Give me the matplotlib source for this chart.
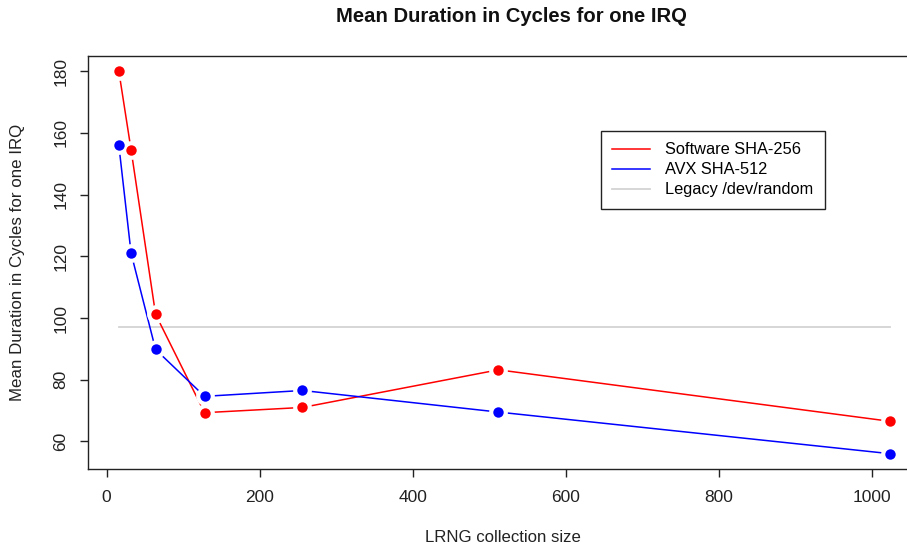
import matplotlib
matplotlib.use("Agg")
import matplotlib.pyplot as plt
from matplotlib.lines import Line2D

plt.rcParams['font.family'] = ['Liberation Sans', 'DejaVu Sans']

sizes = [16, 32, 64, 128, 256, 512, 1024]
software_sha256 = [180, 154.5, 101.2, 69.3, 71.0, 83.2, 66.5]
avx_sha512 = [156, 121, 89.8, 74.6, 76.5, 69.5, 56.0]
legacy = [97, 97, 97, 97, 97, 97, 97]
legend_labels = ["Software SHA-256", "AVX SHA-512", "Legacy /dev/random"]

W, H = 907, 547
fig = plt.figure(figsize=(W/100, H/100), dpi=100)
ax = fig.add_axes([88/W, 1-469/H, (921-88)/W, (469-56)/H])

xr = max(sizes) - min(sizes)
ax.set_xlim(min(sizes) - 0.04*xr, max(sizes) + 0.04*xr)
yall = software_sha256 + avx_sha512
yr = max(yall) - min(yall)
ax.set_ylim(min(yall) - 0.04*yr, max(yall) + 0.04*yr)

ax.plot(sizes, legacy, color='#D3D3D3', lw=1.3, zorder=1)
for ys, c in [(software_sha256, '#FF0000'), (avx_sha512, '#0000FF')]:
    ax.plot(sizes, ys, color=c, lw=1.1, zorder=2)
    ax.plot(sizes, ys, 'o', color='white', ms=13.5, mew=0, zorder=3)
    ax.plot(sizes, ys, 'o', color=c, ms=7.5, mew=0, zorder=4)

ax.set_xticks([0, 200, 400, 600, 800, 1000])
ax.set_yticks([60, 80, 100, 120, 140, 160, 180])
ax.tick_params(axis='both', labelsize=12.5, colors='#222222', length=6, width=1, direction='out')
ax.tick_params(axis='x', pad=9)
ax.tick_params(axis='y', pad=8)
for lbl in ax.get_yticklabels():
    lbl.set_rotation(90)
    lbl.set_va('center')
for s in ax.spines.values():
    s.set_color('#222222')
    s.set_linewidth(1)

fig.text(503/W, 1-537/H, "LRNG collection size", ha='center', va='center', fontsize=12.1, color='#222222')
fig.text(18/W, 1-262/H, "Mean Duration in Cycles for one IRQ", ha='center', va='center', rotation=90, fontsize=12.2, color='#222222')
fig.text(511/W, 1-17/H, "Mean Duration in Cycles for one IRQ", ha='center', va='center', fontsize=14.6, fontweight='bold', color='#111111')

handles = [Line2D([], [], color='#FF0000', lw=1.1),
           Line2D([], [], color='#0000FF', lw=1.1),
           Line2D([], [], color='#D3D3D3', lw=1.3)]
leg = ax.legend(handles, legend_labels, loc='upper left',
                bbox_to_anchor=((601-88)/(921-88), 1-(131-56)/(469-56)),
                fontsize=11.8, frameon=True, fancybox=False, framealpha=1,
                edgecolor='#222222', handlelength=2.3, borderpad=0.7,
                labelspacing=0.3, handletextpad=0.9, borderaxespad=0)
leg.get_frame().set_linewidth(1)

fig.savefig("out.png", dpi=100)
